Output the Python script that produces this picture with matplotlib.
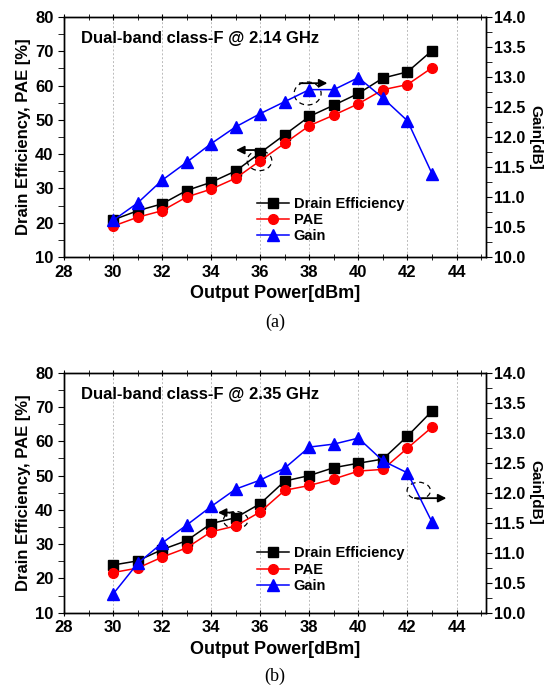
import matplotlib
matplotlib.use("Agg")
import matplotlib.pyplot as plt
from matplotlib.patches import Ellipse
from matplotlib.ticker import MultipleLocator

plt.rcParams['font.family'] = ['Liberation Sans', 'DejaVu Sans']
plt.rcParams['font.weight'] = 'bold'

pout = [30, 31, 32, 33, 34, 35, 36, 37, 38, 39, 40, 41, 42, 43]

# (a) 2.14 GHz
de_a = [20.8, 23.5, 25.5, 29.4, 31.8, 35.1, 40.4, 45.7, 51.0, 54.3, 57.7, 62.2, 64.0, 70.2]
pae_a = [19.0, 21.6, 23.5, 27.5, 29.8, 33.0, 38.1, 43.2, 48.3, 51.4, 54.7, 58.8, 60.3, 65.2]
gain_a = [10.61, 10.90, 11.28, 11.58, 11.89, 12.17, 12.39, 12.59, 12.79, 12.79, 12.99, 12.65, 12.27, 11.39]

# (b) 2.35 GHz
de_b = [23.9, 25.1, 28.4, 31.0, 36.0, 37.7, 41.8, 48.4, 50.0, 52.3, 53.6, 54.8, 61.5, 68.8]
pae_b = [21.7, 23.0, 26.2, 28.9, 33.6, 35.3, 39.4, 45.7, 47.1, 49.0, 51.3, 51.8, 58.0, 64.1]
gain_b = [10.31, 10.82, 11.16, 11.46, 11.77, 12.06, 12.21, 12.41, 12.76, 12.81, 12.91, 12.53, 12.33, 11.51]

titles = ['Dual-band class-F @ 2.14 GHz', 'Dual-band class-F @ 2.35 GHz']
captions = ['(a)', '(b)']


def panel(fig, rect, de, pae, gain, title, leg_y):
    ax = fig.add_axes(rect)
    ax2 = ax.twinx()
    ax.set_xlim(28, 45.2)
    ax.set_ylim(10, 80)
    ax2.set_ylim(10, 14)
    ax.xaxis.set_major_locator(MultipleLocator(2))
    ax.xaxis.set_minor_locator(MultipleLocator(1))
    ax.yaxis.set_major_locator(MultipleLocator(10))
    ax.yaxis.set_minor_locator(MultipleLocator(5))
    ax2.yaxis.set_major_locator(MultipleLocator(0.5))
    ax2.yaxis.set_minor_locator(MultipleLocator(0.25))
    ax2.yaxis.set_major_formatter(plt.FormatStrFormatter('%.1f'))
    for x in range(30, 45, 2):
        ax.axvline(x, color='#bbbbbb', lw=0.7, ls=(0, (2, 2)), zorder=0)

    ax.tick_params(axis='x', which='both', direction='inout', top=True, labelsize=12, length=4)
    ax.tick_params(axis='y', which='both', direction='out', labelsize=12, length=4)
    ax2.tick_params(axis='y', which='both', direction='out', labelsize=11.5, length=4, pad=2)
    for a in (ax, ax2):
        for s in a.spines.values():
            s.set_linewidth(1.0)
        for lab in a.get_xticklabels() + a.get_yticklabels():
            lab.set_fontweight('bold')

    l1, = ax.plot(pout, de, color='black', marker='s', ms=6.5, lw=1.1, label='Drain Efficiency')
    l2, = ax.plot(pout, pae, color='red', marker='o', ms=7, lw=1.1, label='PAE')
    l3, = ax2.plot(pout, gain, color='blue', marker='^', ms=8, lw=1.1, label='Gain')

    ax.set_xlabel('Output Power[dBm]', fontsize=13, fontweight='bold', labelpad=4)
    ax.set_ylabel('Drain Efficiency, PAE [%]', fontsize=12, fontweight='bold', labelpad=3)
    ax2.set_ylabel('Gain[dB]', fontsize=11, fontweight='bold', rotation=-90,
                   ha='center', va='center')
    ax2.yaxis.set_label_coords(1.118, 0.5)
    ax.text(0.04, 0.89, title, transform=ax.transAxes, fontsize=12, fontweight='bold')

    ax2.set_zorder(ax.get_zorder() + 1)
    ax2.patch.set_visible(False)
    ax2.legend(handles=[l1, l2, l3], loc='lower right', bbox_to_anchor=(0.83, leg_y),
               frameon=False, fontsize=10.5, handlelength=2.2, handletextpad=0.3,
               labelspacing=0.15, borderpad=0.2)
    return ax


fig = plt.figure(figsize=(5.45, 6.87), dpi=100)

ax_a = panel(fig, [0.1174, 0.6259, 0.7743, 0.3493], de_a, pae_a, gain_a, titles[0], 0.015)
ax_b = panel(fig, [0.1174, 0.1082, 0.7743, 0.3493], de_b, pae_b, gain_b, titles[1], 0.04)

arrow = dict(arrowstyle='-|>', color='black', lw=1.3, mutation_scale=12)
ell = dict(fill=False, ls=(0, (4, 3)), lw=0.9, color='black')

# annotations (a)
ax_a.add_patch(Ellipse((37.93, 57.7), 1.1, 6.7, **ell))
ax_a.annotate('', xy=(38.85, 60.7), xytext=(37.5, 60.7), arrowprops=arrow)
ax_a.add_patch(Ellipse((35.97, 38.1), 1.0, 5.8, **ell))
ax_a.annotate('', xy=(34.9, 41.2), xytext=(36.13, 41.2), arrowprops=arrow)

# annotations (b)
ax_b.add_patch(Ellipse((35.0, 37.0), 1.0, 5.0, **ell))
ax_b.annotate('', xy=(34.16, 39.2), xytext=(35.04, 39.2), arrowprops=arrow)
ax_b.add_patch(Ellipse((42.46, 45.6), 0.95, 4.9, **ell))
ax_b.annotate('', xy=(43.7, 43.4), xytext=(42.19, 43.4), arrowprops=arrow)

fig.text(0.505, 0.531, captions[0], ha='center', va='center', fontsize=13,
         family='Liberation Serif', fontweight='normal')
fig.text(0.505, 0.016, captions[1], ha='center', va='center', fontsize=13,
         family='Liberation Serif', fontweight='normal')

fig.savefig('out.png', dpi=100)
